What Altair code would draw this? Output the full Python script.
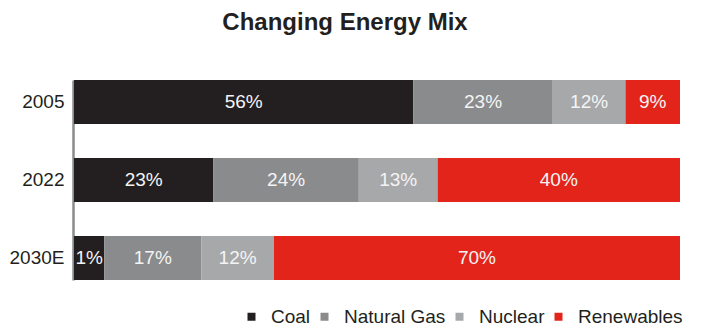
import altair as alt
import pandas as pd

years = ["2005", "2022", "2030E"]
sources = ["Coal", "Natural Gas", "Nuclear", "Renewables"]
colors = ["#231f20", "#8a8b8d", "#a7a8aa", "#e3241b"]
# bar shares as drawn in the picture (percent)
share_2005 = [56, 23, 12, 9]
share_2022 = [23, 24, 13, 40]
share_2030 = [5, 16, 12, 67]
# labels as printed on the bars
label_2005 = ["56%", "23%", "12%", "9%"]
label_2022 = ["23%", "24%", "13%", "40%"]
label_2030 = ["1%", "17%", "12%", "70%"]

rows = []
for y, shares, labels in [("2005", share_2005, label_2005),
                          ("2022", share_2022, label_2022),
                          ("2030E", share_2030, label_2030)]:
    for i, (s, v, l) in enumerate(zip(sources, shares, labels)):
        rows.append({"year": y, "source": s, "value": v, "label": l, "order": i})
df = pd.DataFrame(rows)

FONT = "Liberation Sans"

base = alt.Chart(df).transform_stack(
    stack="value", as_=["x0", "x1"], groupby=["year"], sort=[{"field": "order", "order": "ascending"}]
).transform_calculate(mid="(datum.x0 + datum.x1) / 2")

yenc = alt.Y("year:N", sort=years, title=None,
             scale=alt.Scale(range=[23, 223], paddingInner=34 / 78, paddingOuter=0),
             axis=alt.Axis(labelFont=FONT, labelFontSize=19, labelColor="#231f20",
                           ticks=False, labelPadding=9, domainColor="#8a8b8d",
                           domainWidth=2.5, offset=1))

bars = base.mark_bar(opacity=1).encode(
    x=alt.X("x0:Q", scale=alt.Scale(domain=[0, 100], nice=False), axis=None),
    x2="x1:Q",
    y=yenc,
    color=alt.Color("source:N", sort=sources,
                    scale=alt.Scale(domain=sources, range=colors),
                    legend=alt.Legend(title=None, orient="none", direction="horizontal",
                                      legendX=168, legendY=250, symbolType="square",
                                      symbolSize=64, symbolStrokeWidth=0, symbolOpacity=1,
                                      labelFont=FONT, labelFontSize=19, labelColor="#231f20",
                                      labelOffset=10, columnPadding=4, padding=0)),
)

text = base.mark_text(font=FONT, fontSize=19, color="#f4f4f4", baseline="middle", align="center").encode(
    x=alt.X("mid:Q", scale=alt.Scale(domain=[0, 100], nice=False), axis=None),
    y=alt.Y("year:N", sort=years),
    text="label:N",
)

chart = alt.layer(bars, text).properties(
    width=606, height=240,
    autosize=alt.AutoSizeParams(type="none"),
    padding={"left": 74, "top": 57, "right": 22, "bottom": 38},
    title=alt.TitleParams("Changing Energy Mix", font=FONT, fontSize=24, fontWeight="bold",
                          color="#231f20", anchor="middle", dx=-32, offset=22),
).configure_view(stroke=None)

chart.save("out.html", embed_options={"renderer": "svg", "actions": False})
